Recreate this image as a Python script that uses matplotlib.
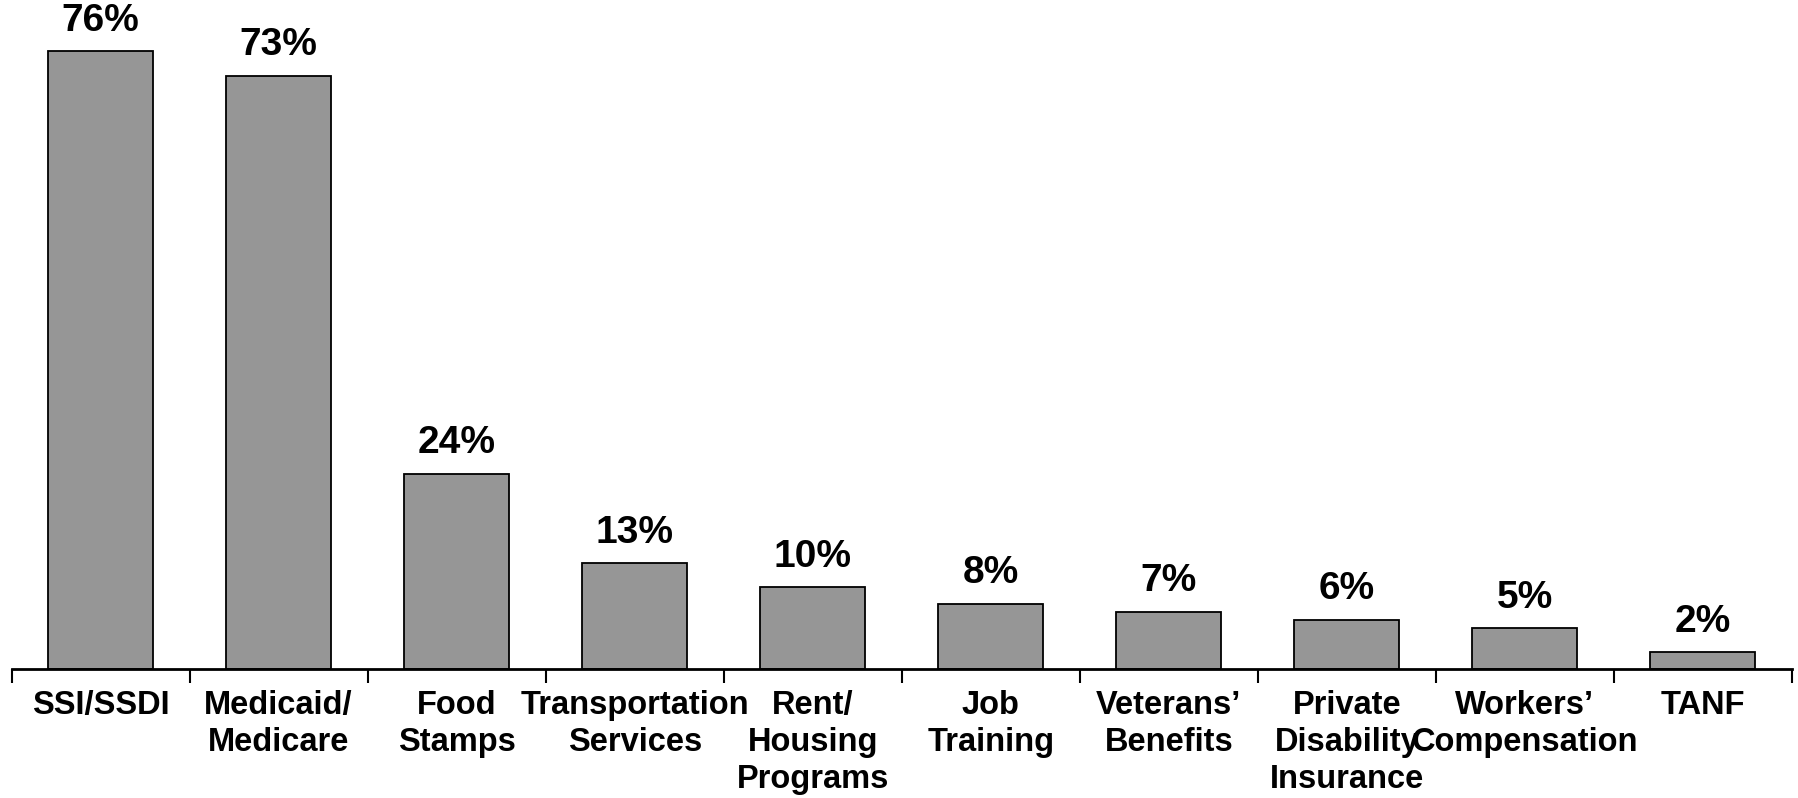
import matplotlib
matplotlib.use('Agg')
import matplotlib.pyplot as plt
import numpy as np


categories = ['SSI/SSDI', 'Medicaid/\nMedicare', 'Food\nStamps', 'Transportation\nServices',
              'Rent/\nHousing\nPrograms', 'Job\nTraining', 'Veterans\u2019\nBenefits',
              'Private\nDisability\nInsurance', 'Workers\u2019\nCompensation', 'TANF']
values = [76, 73, 24, 13, 10, 8, 7, 6, 5, 2]
value_labels = ['76%', '73%', '24%', '13%', '10%', '8%', '7%', '6%', '5%', '2%']

BAR_COLOR = '#969696'
FONT = 'Liberation Sans'

plt.rcParams['font.family'] = FONT

fig = plt.figure(figsize=(17.99, 7.98), dpi=100)
ax = fig.add_axes([0.0064, 0.162, 0.9897, 0.835])

x = np.arange(len(categories))
bars = ax.bar(x, values, width=0.59, color=BAR_COLOR, edgecolor='black', linewidth=1.3)

# value labels above bars
for xi, v, lab in zip(x, values, value_labels):
    ax.annotate(lab, (xi, v), xytext=(0, 9), textcoords='offset points',
                ha='center', va='bottom', fontsize=28, fontweight='bold')

ax.set_xlim(-0.5, len(categories) - 0.5)
ax.set_ylim(0, 82)

# category labels on major ticks, tick marks at boundaries
ax.set_xticks(x)
ax.set_xticklabels(categories, fontsize=23.5, fontweight='bold', linespacing=1.25)
ax.tick_params(axis='x', which='major', length=0, pad=15)
ax.set_xticks(np.arange(-0.5, len(categories)), minor=True)
ax.tick_params(axis='x', which='minor', length=10, width=1.5, direction='out')

ax.set_yticks([])
for s in ['top', 'right', 'left']:
    ax.spines[s].set_visible(False)
ax.spines['bottom'].set_linewidth(2)

fig.savefig('out.png', dpi=100)
